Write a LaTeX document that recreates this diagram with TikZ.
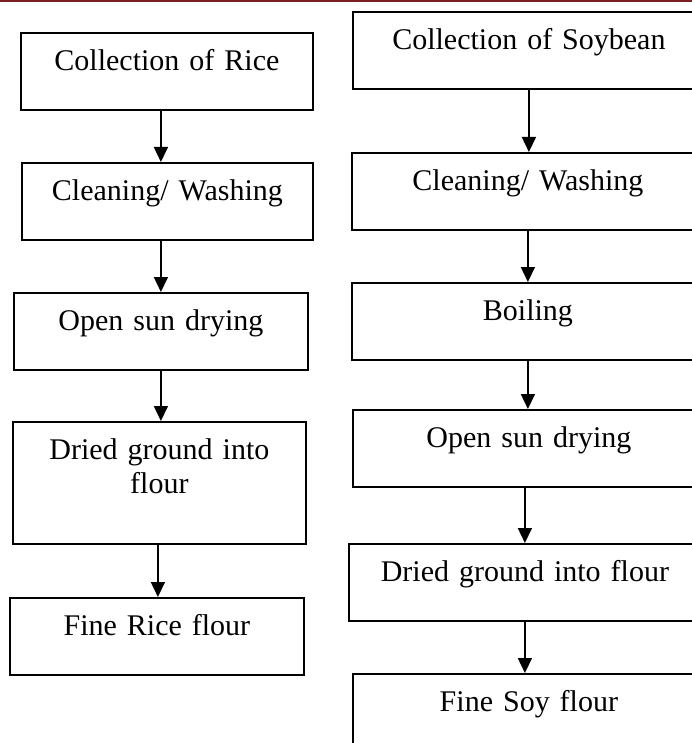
\documentclass[tikz,border=0pt]{standalone}
\usepackage{fontspec}
\setmainfont{Liberation Serif}
\usetikzlibrary{arrows.meta,positioning}
\definecolor{HeaderRed}{RGB}{122,32,32}
\newcommand\stepfont{\fontsize{30}{34}\selectfont}
\tikzset{
  stepbox/.style={draw,line width=1.8pt,inner sep=0pt,text width=#1,
    align=center,text height=38pt,text depth=39pt,font=\stepfont},
  stepbox/.default=293pt,
  arrow/.style={-{Triangle[length=15pt,width=14pt]},line width=1.6pt}
}

\begin{document}
\begin{tikzpicture}[x=1pt,y=-1pt]
  \fill[white] (0,0) rectangle (692,743);
  \useasboundingbox (0,0) rectangle (692,743);
  \clip (0,0) rectangle (692,743);
  \draw[HeaderRed,line width=1.6pt] (0,0.8) -- (692,0.8);
  % rice
  \node[stepbox=292pt,anchor=north west] (rice1) at (20,32) {Collection of Rice};
  \node[stepbox=291pt,anchor=north west] (rice2) at (21,162) {Cleaning/ Washing\hspace*{22pt}};
  \node[stepbox=294pt,anchor=north west] (rice3) at (13,292) {Open sun drying};
  \node[stepbox=293pt,anchor=north west,text depth=84pt] (rice4) at (12,421)
    {Dried ground into\\flour};
  \node[stepbox=294pt,anchor=north west] (rice5) at (9,597) {Fine Rice flour};
  % soybean
  \node[stepbox=352pt,anchor=north west] (soy1) at (352,11) {Collection of Soybean};
  \node[stepbox=352pt,anchor=north west] (soy2) at (351,152) {Cleaning/ Washing};
  \node[stepbox=352pt,anchor=north west] (soy3) at (351,282) {Boiling};
  \node[stepbox=352pt,anchor=north west] (soy4) at (352,409) {Open sun drying};
  \node[stepbox=352pt,anchor=north west] (soy5) at (348,543) {Dried ground into flour};
  \node[stepbox=352pt,anchor=north west] (soy6) at (352,673) {Fine Soy flour};
  \draw[arrow] ([xshift=-6pt]rice1.south) -- ([xshift=-6pt]rice1.south |- rice2.north);
  \draw[arrow] (rice3.north |- rice2.south) -- (rice3.north);
  \draw[arrow] (rice3.south) -- (rice3.south |- rice4.north);
  \draw[arrow] ([xshift=-1.5pt]rice4.south) -- ([xshift=-1.5pt]rice4.south |- rice5.north);
  \draw[arrow] (soy1.south) -- (soy1.south |- soy2.north);
  \draw[arrow] (soy2.south) -- (soy2.south |- soy3.north);
  \draw[arrow] (soy3.south) -- (soy3.south |- soy4.north);
  \draw[arrow] (soy5.north |- soy4.south) -- (soy5.north);
  \draw[arrow] (soy5.south) -- (soy5.south |- soy6.north);
\end{tikzpicture}
\end{document}
